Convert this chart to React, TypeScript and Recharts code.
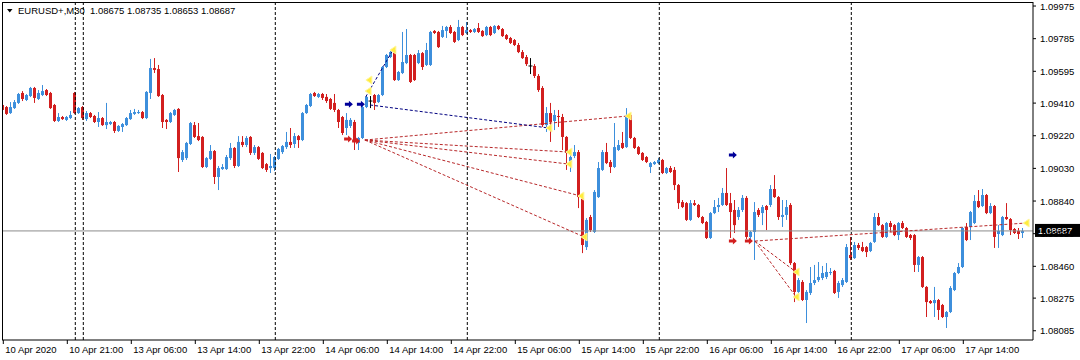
import React from 'react';
import { ComposedChart, Bar, XAxis, YAxis, ReferenceLine, ReferenceDot } from 'recharts';

// EURUSD+ M30 candles, index 0 = 10 Apr 2020 13:00
const openP = [
  1.09399, 1.09387, 1.09352, 1.09381, 1.09411, 1.09469, 1.09428, 1.09451, 1.09498, 1.09434, 1.09457, 1.09486, 1.09469, 1.09399, 1.09306, 1.09329,
  1.09312, 1.09323, 1.09469, 1.09352, 1.09387, 1.09317, 1.09352, 1.09335, 1.09300, 1.09323, 1.09282, 1.09288, 1.09300, 1.09248, 1.09271, 1.09282,
  1.09317, 1.09347, 1.09352, 1.09358, 1.09323, 1.09469, 1.09614, 1.09608, 1.09457, 1.09312, 1.09300, 1.09341, 1.09376, 1.09079, 1.09090, 1.09172,
  1.09282, 1.09218, 1.09213, 1.09038, 1.09085, 1.09131, 1.08980, 1.09026, 1.09026, 1.09090, 1.09149, 1.09044, 1.09184, 1.09166, 1.09213, 1.09120,
  1.09154, 1.09120, 1.09055, 1.09032, 1.09032, 1.09085, 1.09125, 1.09154, 1.09184, 1.09172, 1.09218, 1.09195, 1.09352, 1.09393, 1.09469, 1.09446,
  1.09463, 1.09446, 1.09434, 1.09411, 1.09370, 1.09329, 1.09265, 1.09277, 1.09300, 1.09178, 1.09207, 1.09387, 1.09422, 1.09457, 1.09416, 1.09457,
  1.09620, 1.09678, 1.09719, 1.09544, 1.09585, 1.09643, 1.09690, 1.09690, 1.09643, 1.09701, 1.09632, 1.09632, 1.09830, 1.09824, 1.09795, 1.09830,
  1.09853, 1.09824, 1.09777, 1.09853, 1.09818, 1.09835, 1.09824, 1.09847, 1.09830, 1.09806, 1.09853, 1.09818, 1.09859, 1.09841, 1.09806, 1.09789,
  1.09777, 1.09748, 1.09707, 1.09678, 1.09626, 1.09626, 1.09568, 1.09498, 1.09282, 1.09352, 1.09306, 1.09335, 1.09329, 1.09213, 1.09067, 1.09102,
  1.09125, 1.08858, 1.08572, 1.08747, 1.08660, 1.08863, 1.09021, 1.09125, 1.09067, 1.09038, 1.09137, 1.09178, 1.09154, 1.09341, 1.09207, 1.09154,
  1.09120, 1.09096, 1.09038, 1.09055, 1.09061, 1.09079, 1.09003, 1.09032, 1.09021, 1.08933, 1.08834, 1.08828, 1.08730, 1.08828, 1.08817, 1.08747,
  1.08718, 1.08625, 1.08770, 1.08805, 1.08817, 1.08887, 1.08828, 1.08788, 1.08747, 1.08788, 1.08858, 1.08631, 1.08660, 1.08788, 1.08770, 1.08811,
  1.08817, 1.08910, 1.08863, 1.08747, 1.08759, 1.08817, 1.08479, 1.08311, 1.08369, 1.08264, 1.08305, 1.08363, 1.08380, 1.08392, 1.08398, 1.08421,
  1.08433, 1.08311, 1.08351, 1.08369, 1.08526, 1.08508, 1.08584, 1.08572, 1.08572, 1.08549, 1.08602, 1.08747, 1.08700, 1.08631, 1.08712, 1.08700,
  1.08642, 1.08712, 1.08683, 1.08642, 1.08642, 1.08468, 1.08514, 1.08340, 1.08258, 1.08246, 1.08264, 1.08235, 1.08165, 1.08194, 1.08322, 1.08421,
  1.08456, 1.08689, 1.08689, 1.08712, 1.08840, 1.08811, 1.08875, 1.08770, 1.08811, 1.08648, 1.08642, 1.08747, 1.08735, 1.08677, 1.08666, 1.08654,
];
const highP = [
  1.09411, 1.09393, 1.09416, 1.09428, 1.09469, 1.09480, 1.09463, 1.09504, 1.09504, 1.09486, 1.09515, 1.09492, 1.09475, 1.09405, 1.09352, 1.09335,
  1.09335, 1.09364, 1.09475, 1.09387, 1.09393, 1.09364, 1.09358, 1.09341, 1.09358, 1.09329, 1.09411, 1.09306, 1.09306, 1.09282, 1.09294, 1.09329,
  1.09370, 1.09376, 1.09370, 1.09364, 1.09480, 1.09667, 1.09672, 1.09632, 1.09463, 1.09317, 1.09358, 1.09376, 1.09381, 1.09137, 1.09184, 1.09300,
  1.09300, 1.09294, 1.09218, 1.09096, 1.09166, 1.09137, 1.09044, 1.09055, 1.09108, 1.09178, 1.09154, 1.09218, 1.09218, 1.09218, 1.09218, 1.09166,
  1.09160, 1.09125, 1.09061, 1.09114, 1.09102, 1.09149, 1.09166, 1.09242, 1.09265, 1.09236, 1.09224, 1.09358, 1.09405, 1.09469, 1.09475, 1.09469,
  1.09469, 1.09463, 1.09440, 1.09463, 1.09376, 1.09335, 1.09352, 1.09323, 1.09312, 1.09213, 1.09393, 1.09451, 1.09451, 1.09463, 1.09463, 1.09626,
  1.09696, 1.09713, 1.09725, 1.09597, 1.09824, 1.09841, 1.09696, 1.09696, 1.09719, 1.09707, 1.09760, 1.09830, 1.09835, 1.09830, 1.09859, 1.09859,
  1.09864, 1.09830, 1.09894, 1.09859, 1.09882, 1.09841, 1.09847, 1.09876, 1.09835, 1.09859, 1.09859, 1.09864, 1.09864, 1.09847, 1.09812, 1.09795,
  1.09783, 1.09760, 1.09719, 1.09690, 1.09672, 1.09637, 1.09579, 1.09509, 1.09387, 1.09411, 1.09370, 1.09370, 1.09347, 1.09218, 1.09108, 1.09166,
  1.09137, 1.08863, 1.08741, 1.08759, 1.08904, 1.09067, 1.09137, 1.09178, 1.09079, 1.09294, 1.09195, 1.09242, 1.09381, 1.09352, 1.09213, 1.09160,
  1.09125, 1.09102, 1.09067, 1.09073, 1.09090, 1.09085, 1.09038, 1.09044, 1.09038, 1.08939, 1.08846, 1.08834, 1.08846, 1.08846, 1.08823, 1.08753,
  1.08724, 1.08776, 1.08846, 1.08858, 1.08916, 1.09032, 1.08887, 1.08846, 1.08805, 1.08875, 1.08869, 1.08666, 1.08834, 1.08799, 1.08817, 1.08817,
  1.08933, 1.08991, 1.08869, 1.08846, 1.08846, 1.08828, 1.08485, 1.08392, 1.08380, 1.08322, 1.08456, 1.08468, 1.08485, 1.08462, 1.08479, 1.08450,
  1.08439, 1.08375, 1.08392, 1.08590, 1.08631, 1.08602, 1.08596, 1.08602, 1.08578, 1.08602, 1.08770, 1.08770, 1.08706, 1.08718, 1.08724, 1.08706,
  1.08718, 1.08724, 1.08689, 1.08648, 1.08648, 1.08520, 1.08520, 1.08345, 1.08264, 1.08340, 1.08270, 1.08241, 1.08200, 1.08345, 1.08427, 1.08479,
  1.08689, 1.08712, 1.08782, 1.08875, 1.08904, 1.08910, 1.08881, 1.08828, 1.08817, 1.08700, 1.08753, 1.08828, 1.08741, 1.08683, 1.08683, 1.08683,
];
const lowP = [
  1.09358, 1.09341, 1.09347, 1.09376, 1.09405, 1.09422, 1.09422, 1.09445, 1.09411, 1.09428, 1.09451, 1.09451, 1.09376, 1.09300, 1.09300, 1.09312,
  1.09306, 1.09317, 1.09347, 1.09347, 1.09312, 1.09306, 1.09323, 1.09294, 1.09271, 1.09277, 1.09259, 1.09282, 1.09236, 1.09242, 1.09242, 1.09277,
  1.09312, 1.09341, 1.09347, 1.09317, 1.09317, 1.09434, 1.09585, 1.09446, 1.09265, 1.09259, 1.09294, 1.09335, 1.09009, 1.09067, 1.09079, 1.09166,
  1.09207, 1.09189, 1.09032, 1.09032, 1.09079, 1.08939, 1.08904, 1.09021, 1.09021, 1.09079, 1.09032, 1.09038, 1.09154, 1.09154, 1.09108, 1.09108,
  1.09079, 1.09026, 1.09009, 1.09003, 1.09015, 1.09079, 1.09114, 1.09143, 1.09149, 1.09149, 1.09149, 1.09189, 1.09347, 1.09387, 1.09446, 1.09440,
  1.09428, 1.09411, 1.09370, 1.09358, 1.09265, 1.09224, 1.09224, 1.09265, 1.09137, 1.09137, 1.09201, 1.09381, 1.09381, 1.09370, 1.09411, 1.09451,
  1.09614, 1.09672, 1.09539, 1.09539, 1.09579, 1.09637, 1.09527, 1.09539, 1.09637, 1.09603, 1.09626, 1.09626, 1.09812, 1.09731, 1.09789, 1.09789,
  1.09812, 1.09760, 1.09771, 1.09800, 1.09812, 1.09818, 1.09818, 1.09818, 1.09795, 1.09800, 1.09800, 1.09812, 1.09835, 1.09795, 1.09777, 1.09754,
  1.09742, 1.09701, 1.09667, 1.09626, 1.09579, 1.09556, 1.09475, 1.09271, 1.09242, 1.09184, 1.09253, 1.09271, 1.09137, 1.09021, 1.09009, 1.09090,
  1.08799, 1.08537, 1.08555, 1.08660, 1.08654, 1.08858, 1.09015, 1.09055, 1.09003, 1.09032, 1.09131, 1.09143, 1.09149, 1.09201, 1.09143, 1.09108,
  1.09073, 1.09061, 1.09003, 1.09050, 1.09055, 1.08997, 1.08997, 1.09003, 1.08904, 1.08794, 1.08799, 1.08724, 1.08724, 1.08811, 1.08741, 1.08706,
  1.08619, 1.08619, 1.08764, 1.08776, 1.08811, 1.08811, 1.08625, 1.08654, 1.08730, 1.08776, 1.08619, 1.08613, 1.08497, 1.08747, 1.08700, 1.08671,
  1.08805, 1.08858, 1.08730, 1.08689, 1.08730, 1.08468, 1.08252, 1.08299, 1.08258, 1.08130, 1.08293, 1.08351, 1.08369, 1.08380, 1.08386, 1.08409,
  1.08299, 1.08276, 1.08340, 1.08363, 1.08497, 1.08503, 1.08555, 1.08543, 1.08514, 1.08543, 1.08596, 1.08695, 1.08625, 1.08625, 1.08660, 1.08636,
  1.08613, 1.08677, 1.08625, 1.08613, 1.08427, 1.08427, 1.08334, 1.08165, 1.08241, 1.08165, 1.08148, 1.08159, 1.08101, 1.08188, 1.08316, 1.08415,
  1.08450, 1.08607, 1.08613, 1.08706, 1.08799, 1.08805, 1.08764, 1.08764, 1.08567, 1.08567, 1.08636, 1.08730, 1.08642, 1.08648, 1.08619, 1.08625,
];
const closeP = [
  1.09370, 1.09347, 1.09387, 1.09416, 1.09463, 1.09434, 1.09457, 1.09498, 1.09440, 1.09469, 1.09480, 1.09457, 1.09381, 1.09306, 1.09329, 1.09317,
  1.09329, 1.09341, 1.09352, 1.09381, 1.09323, 1.09352, 1.09329, 1.09300, 1.09323, 1.09282, 1.09300, 1.09300, 1.09248, 1.09277, 1.09288, 1.09323,
  1.09352, 1.09358, 1.09358, 1.09323, 1.09475, 1.09614, 1.09603, 1.09451, 1.09300, 1.09300, 1.09352, 1.09370, 1.09090, 1.09125, 1.09178, 1.09294,
  1.09213, 1.09195, 1.09038, 1.09090, 1.09131, 1.08980, 1.09032, 1.09038, 1.09096, 1.09149, 1.09044, 1.09184, 1.09166, 1.09207, 1.09120, 1.09154,
  1.09085, 1.09032, 1.09021, 1.09044, 1.09096, 1.09143, 1.09160, 1.09184, 1.09166, 1.09218, 1.09195, 1.09352, 1.09399, 1.09463, 1.09451, 1.09463,
  1.09440, 1.09422, 1.09376, 1.09370, 1.09300, 1.09236, 1.09312, 1.09312, 1.09184, 1.09207, 1.09387, 1.09446, 1.09422, 1.09411, 1.09457, 1.09620,
  1.09690, 1.09707, 1.09544, 1.09591, 1.09649, 1.09690, 1.09533, 1.09544, 1.09701, 1.09620, 1.09719, 1.09824, 1.09818, 1.09736, 1.09835, 1.09853,
  1.09818, 1.09766, 1.09853, 1.09806, 1.09835, 1.09824, 1.09841, 1.09824, 1.09800, 1.09853, 1.09806, 1.09859, 1.09841, 1.09800, 1.09783, 1.09760,
  1.09748, 1.09707, 1.09672, 1.09637, 1.09626, 1.09568, 1.09486, 1.09282, 1.09352, 1.09300, 1.09341, 1.09329, 1.09213, 1.09120, 1.09096, 1.09125,
  1.08863, 1.08584, 1.08730, 1.08671, 1.08893, 1.09032, 1.09125, 1.09061, 1.09038, 1.09154, 1.09166, 1.09149, 1.09341, 1.09207, 1.09149, 1.09114,
  1.09079, 1.09067, 1.09061, 1.09067, 1.09079, 1.09003, 1.09032, 1.09009, 1.08933, 1.08828, 1.08805, 1.08730, 1.08828, 1.08817, 1.08747, 1.08712,
  1.08625, 1.08770, 1.08805, 1.08817, 1.08887, 1.08817, 1.08776, 1.08700, 1.08788, 1.08858, 1.08631, 1.08660, 1.08776, 1.08759, 1.08805, 1.08788,
  1.08910, 1.08863, 1.08747, 1.08759, 1.08805, 1.08479, 1.08311, 1.08380, 1.08264, 1.08311, 1.08363, 1.08380, 1.08398, 1.08421, 1.08427, 1.08427,
  1.08305, 1.08363, 1.08380, 1.08572, 1.08508, 1.08584, 1.08567, 1.08549, 1.08543, 1.08596, 1.08747, 1.08700, 1.08631, 1.08712, 1.08689, 1.08642,
  1.08712, 1.08683, 1.08631, 1.08625, 1.08468, 1.08514, 1.08340, 1.08252, 1.08246, 1.08264, 1.08206, 1.08165, 1.08194, 1.08334, 1.08421, 1.08456,
  1.08683, 1.08613, 1.08776, 1.08840, 1.08805, 1.08875, 1.08770, 1.08811, 1.08631, 1.08666, 1.08747, 1.08735, 1.08671, 1.08654, 1.08648, 1.08666,
];

const timeTickIdx = [0, 16, 32, 48, 64, 80, 96, 112, 128, 144, 160, 176, 192, 208, 224, 240];
const timeTickLabels = [
  '10 Apr 2020', '10 Apr 21:00', '13 Apr 06:00', '13 Apr 14:00', '13 Apr 22:00', '14 Apr 06:00', '14 Apr 14:00', '14 Apr 22:00',
  '15 Apr 06:00', '15 Apr 14:00', '15 Apr 22:00', '16 Apr 06:00', '16 Apr 14:00', '16 Apr 22:00', '17 Apr 06:00', '17 Apr 14:00',
];
const priceTicks = [1.09975, 1.09785, 1.09595, 1.0941, 1.0922, 1.0903, 1.0884, 1.0865, 1.0846, 1.08275, 1.08085];
const daySeparators = [18, 20, 68, 116, 164, 212];
const bidLevel = 1.08666;
const bidText = '1.08687';
const headerSymbol = 'EURUSD+,M30';
const headerOHLC = '1.08675 1.08735 1.08653 1.08687';

// dashed trend objects: [fromIndex, fromPrice, toIndex, toPrice]
const redDashed = [
  [90.4, 1.09195, 156.2, 1.09335],
  [90.4, 1.09195, 141.4, 1.09125],
  [90.4, 1.09195, 141.4, 1.09055],
  [90.4, 1.09195, 144.4, 1.08869],
  [90.4, 1.09195, 145.2, 1.08631],
  [187.9, 1.08607, 255.7, 1.08712],
  [187.9, 1.08607, 198.2, 1.08427],
  [187.9, 1.08607, 198.2, 1.08282],
];
const navyDashed = [
  [91.7, 1.09399, 136.4, 1.09265],
  [90.6, 1.09446, 97.4, 1.09719],
];
const yellowMarks = [
  [136.4, 1.09265], [141.4, 1.09125], [141.4, 1.09055], [144.4, 1.08869], [145.2, 1.08631], [156.2, 1.09335],
  [198.2, 1.08427], [198.2, 1.08282], [255.7, 1.08712], [91.4, 1.09544], [91.2, 1.0948], [97.4, 1.09719],
];
const blueArrows = [[86.4, 1.09403], [89.4, 1.09403], [182.4, 1.09108]];
const redArrows = [[86.2, 1.09201], [88.2, 1.09189], [182.4, 1.08607], [186.4, 1.08607]];

const BULL = '#3d8fdc';
const BEAR = '#d21f1f';
const FONT = '"Liberation Sans", Arial, sans-serif';

const rows = openP.map((o, i) => ({
  i,
  o,
  h: highP[i],
  l: lowP[i],
  c: closeP[i],
  range: [lowP[i], highP[i]],
}));

const Candle = (props: any) => {
  const { x, y, width, height, payload } = props;
  if (x == null || y == null || !payload) return null;
  const { o, h, l, c } = payload;
  const top = Math.min(y, y + height);
  const bot = Math.max(y, y + height);
  const span = h - l;
  const py = (v: number) => (span === 0 ? top : top + ((h - v) / span) * (bot - top));
  const cx = Math.floor(x + width / 2) + 0.5;
  const color = c > o ? BULL : c < o ? BEAR : '#000';
  const yo = py(o);
  const yc = py(c);
  const bt = Math.min(yo, yc);
  const bb = Math.max(yo, yc);
  return (
    <g>
      <line x1={cx} x2={cx} y1={top} y2={bot} stroke={color} strokeWidth={1} />
      {color === '#000' ? (
        <line x1={cx - 2} x2={cx + 2} y1={yo} y2={yo} stroke={color} strokeWidth={1} />
      ) : (
        <rect x={cx - 1.5} y={bt} width={3} height={Math.max(bb - bt, 1)} fill={color} />
      )}
    </g>
  );
};

const XTick = (props: any) => {
  const { x, y, payload } = props;
  const k = timeTickIdx.indexOf(payload.value);
  return (
    <text x={x + 2} y={y + 7} fontSize={9.5} fontFamily={FONT} fill="#000" textAnchor="start">
      {k >= 0 ? timeTickLabels[k] : ''}
    </text>
  );
};

const YTick = (props: any) => {
  const { x, y, payload } = props;
  return (
    <text x={x + 2} y={y + 3.5} fontSize={9.5} fontFamily={FONT} fill="#000" textAnchor="start">
      {Number(payload.value).toFixed(5)}
    </text>
  );
};

const BidLabel = (props: any) => {
  const vb = props.viewBox || {};
  const xr = (vb.x || 0) + (vb.width || 0);
  const yy = vb.y || 0;
  return (
    <g>
      <rect x={xr + 2} y={yy - 7} width={45} height={13} fill="#000" />
      <text x={xr + 5} y={yy + 3} fontSize={9.5} fontFamily={FONT} fill="#fff">{bidText}</text>
    </g>
  );
};

const Arrow = ({ cx, cy, color }: any) => (
  <path
    d={`M${cx - 4},${cy - 1.5} L${cx},${cy - 1.5} L${cx},${cy - 3.5} L${cx + 4},${cy} L${cx},${cy + 3.5} L${cx},${cy + 1.5} L${cx - 4},${cy + 1.5} Z`}
    fill={color}
  />
);

const YellowMark = ({ cx, cy }: any) => (
  <path d={`M${cx - 3},${cy} L${cx + 3},${cy - 4} L${cx + 3},${cy + 4} Z`} fill="#ffec3d" stroke="#fff6a0" strokeWidth={1} />
);

export default function App() {
  return (
    <div style={{ position: 'absolute', left: 0, top: 0, width: 1080, height: 360, background: '#fff' }}>
      <ComposedChart
        width={1080}
        height={360}
        data={rows}
        margin={{ top: 2, right: 0, bottom: 0, left: 2 }}
      >
        <XAxis
          type="number"
          dataKey="i"
          domain={[-0.325, 257.425]}
          allowDataOverflow
          ticks={timeTickIdx}
          interval={0}
          tickSize={4}
          height={20}
          axisLine={{ stroke: '#000' }}
          tickLine={{ stroke: '#000' }}
          tick={<XTick />}
        />
        <YAxis
          orientation="right"
          type="number"
          domain={[1.080312, 1.099984]}
          allowDataOverflow
          ticks={priceTicks}
          interval={0}
          tickSize={3}
          width={47}
          axisLine={{ stroke: '#000' }}
          tickLine={{ stroke: '#000' }}
          tick={<YTick />}
        />
        {daySeparators.map((d) => (
          <ReferenceLine key={'sep' + d} x={d} stroke="#000" strokeDasharray="3 2" strokeWidth={1} />
        ))}
        <ReferenceLine y={bidLevel} stroke="#8c8c8c" strokeWidth={1} label={<BidLabel />} />
        <Bar dataKey="range" barSize={3} shape={<Candle />} isAnimationActive={false} />
        {redDashed.map((s, k) => (
          <ReferenceLine
            key={'rd' + k}
            segment={[{ x: s[0], y: s[1] }, { x: s[2], y: s[3] }]}
            stroke="#b8282a"
            strokeDasharray="3 2"
            strokeWidth={1}
            ifOverflow="visible"
          />
        ))}
        {navyDashed.map((s, k) => (
          <ReferenceLine
            key={'nd' + k}
            segment={[{ x: s[0], y: s[1] }, { x: s[2], y: s[3] }]}
            stroke="#000080"
            strokeDasharray="3 2"
            strokeWidth={1}
            ifOverflow="visible"
          />
        ))}
        {yellowMarks.map((m, k) => (
          <ReferenceDot key={'ym' + k} x={m[0]} y={m[1]} r={4} ifOverflow="visible" shape={(p: any) => <YellowMark cx={p.cx} cy={p.cy} />} />
        ))}
        {blueArrows.map((m, k) => (
          <ReferenceDot key={'ba' + k} x={m[0]} y={m[1]} r={4} ifOverflow="visible" shape={(p: any) => <Arrow cx={p.cx} cy={p.cy} color="#000099" />} />
        ))}
        {redArrows.map((m, k) => (
          <ReferenceDot key={'ra' + k} x={m[0]} y={m[1]} r={4} ifOverflow="visible" shape={(p: any) => <Arrow cx={p.cx} cy={p.cy} color="#d21f1f" />} />
        ))}
      </ComposedChart>
      <svg width={1080} height={360} style={{ position: 'absolute', left: 0, top: 0, pointerEvents: 'none' }}>
        <line x1={2.5} y1={2} x2={2.5} y2={340} stroke="#000" strokeWidth={1} />
        <line x1={2} y1={2.5} x2={1033} y2={2.5} stroke="#000" strokeWidth={1} />
        <polygon points="7,9 12.5,9 9.75,12.5" fill="#000" />
        <text x={18} y={14} fontSize={9.5} fontFamily={FONT} fill="#000" style={{ whiteSpace: 'pre' }}>
          {headerSymbol + '  ' + headerOHLC}
        </text>
      </svg>
    </div>
  );
}
